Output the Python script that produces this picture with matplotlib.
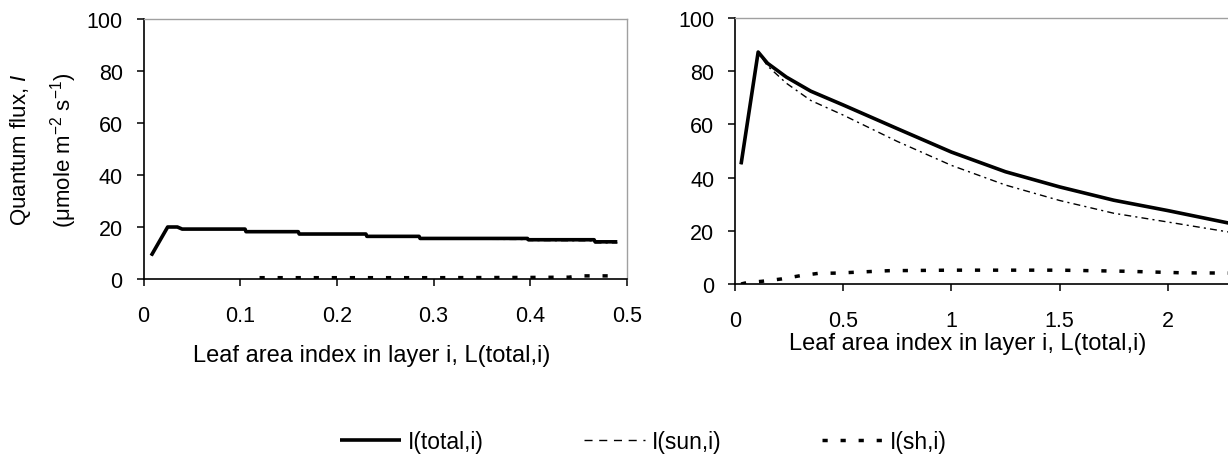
import matplotlib
matplotlib.use("Agg")
import matplotlib.pyplot as plt
from matplotlib.lines import Line2D

plt.rcParams['font.family'] = ['Liberation Sans', 'DejaVu Sans']
plt.rcParams['mathtext.fontset'] = 'custom'
plt.rcParams['mathtext.rm'] = 'Liberation Sans'
plt.rcParams['mathtext.it'] = 'Liberation Sans:italic'

# left panel: shallow layers (L up to 0.5)
lx_total = [0.008, 0.025, 0.035, 0.04, 0.105, 0.106, 0.16, 0.161, 0.23, 0.231,
            0.285, 0.286, 0.397, 0.398, 0.466, 0.467, 0.49]
ly_total = [9, 20, 20, 19.2, 19.2, 18.2, 18.2, 17.3, 17.3, 16.4,
            16.4, 15.6, 15.6, 15.1, 15.1, 14.3, 14.3]
lx_sun = [0.008, 0.025, 0.035, 0.04, 0.105, 0.106, 0.16, 0.161, 0.23, 0.231,
          0.285, 0.286, 0.397, 0.398, 0.466, 0.467, 0.49]
ly_sun = [9, 20, 20, 19.2, 19.2, 18.2, 18.2, 17.2, 17.2, 16.3,
          16.3, 15.4, 15.2, 14.8, 14.7, 13.9, 13.9]
lx_sh = [0.12, 0.2, 0.3, 0.4, 0.44, 0.45, 0.49]
ly_sh = [0.5, 0.5, 0.5, 0.6, 0.7, 1.2, 1.2]

# right panel: whole canopy
rx_total = [0.028, 0.107, 0.15, 0.237, 0.35, 0.5, 0.75, 1.0, 1.25, 1.5, 1.75, 2.0, 2.3]
ry_total = [45, 87.2, 83, 77.8, 72.5, 67.3, 58.4, 49.6, 42.2, 36.5, 31.5, 27.6, 22.6]
rx_sun = [0.028, 0.107, 0.15, 0.237, 0.35, 0.5, 0.75, 1.0, 1.25, 1.5, 1.75, 2.0, 2.3]
ry_sun = [45, 87.2, 82, 75.5, 69, 63.5, 53.6, 44.6, 37.2, 31.4, 26.6, 23.3, 19.3]
rx_sh = [0.028, 0.054, 0.123, 0.215, 0.3, 0.385, 0.47, 0.55, 0.71, 1.0, 1.5, 1.8, 2.07, 2.3]
ry_sh = [0.0, 0.5, 1.0, 1.9, 3.1, 4.0, 4.1, 4.4, 5.0, 5.2, 5.2, 4.8, 4.2, 4.1]

legend_labels = ['I(total,i)', 'I(sun,i)', 'I(sh,i)']
xlabel = 'Leaf area index in layer i, L(total,i)'

W, H = 1228, 456
fig = plt.figure(figsize=(W / 100, H / 100), dpi=100)

ax1 = fig.add_axes([143.5 / W, (H - 280) / H, (627 - 143.5) / W, 260 / H])
ax2 = fig.add_axes([735 / W, (H - 285) / H, 541 / W, 266 / H])

total_kw = dict(color='black', lw=2.6, solid_capstyle='butt')
sun_kw = dict(color='black', lw=1.0, linestyle=(0, (5, 3, 1.5, 3)))
sh_kw = dict(color='black', lw=2.5, linestyle=(0, (1.5, 3.7)))

ax1.plot(lx_sh, ly_sh, **sh_kw)
ax1.plot(lx_sun, ly_sun, **sun_kw)
ax1.plot(lx_total, ly_total, **total_kw)

ax2.plot(rx_sh, ry_sh, **sh_kw)
ax2.plot(rx_sun, ry_sun, **sun_kw)
ax2.plot(rx_total, ry_total, **total_kw)

ax1.set_xlim(0, 0.5)
ax1.set_xticks([0, 0.1, 0.2, 0.3, 0.4, 0.5])
ax1.set_xticklabels(['0', '0.1', '0.2', '0.3', '0.4', '0.5'])
ax2.set_xlim(0, 2.5)
ax2.set_xticks([0, 0.5, 1, 1.5, 2])
ax2.set_xticklabels(['0', '0.5', '1', '1.5', '2'])

for ax in (ax1, ax2):
    ax.set_ylim(0, 100)
    ax.set_yticks([0, 20, 40, 60, 80, 100])
    ax.tick_params(direction='out', length=5, width=1.1, labelsize=15.5, colors='black')
    ax.tick_params(axis='y', pad=10)
    ax.tick_params(axis='x', pad=14)
    for s in ('left', 'bottom'):
        ax.spines[s].set_color('black')
        ax.spines[s].set_linewidth(1.2)
    for s in ('top', 'right'):
        ax.spines[s].set_color('#a0a0a0')
        ax.spines[s].set_linewidth(1.0)
    ax.set_xlabel(xlabel, fontsize=17, va='top')

ax1.xaxis.set_label_coords((372 - 143.5) / 483.5, (280 - 345) / 260)
ax2.xaxis.set_label_coords((968 - 735) / 541, (285 - 333) / 266)

fig.text(21 / W, (H - 150) / H, 'Quantum flux, $\\mathit{I}$', rotation=90,
         ha='center', va='center', fontsize=16)
fig.text(64 / W, (H - 150) / H, '(\u03bcmole m$^{-2}$ s$^{-1}$)', rotation=90,
         ha='center', va='center', fontsize=16)

handles = [Line2D([], [], **total_kw),
           Line2D([], [], color='black', lw=1.0, linestyle=(0, (5.8, 4.8))),
           Line2D([], [], **sh_kw)]
fig.legend(handles, legend_labels, loc='center', bbox_to_anchor=(643.5 / W, 13 / H),
           ncol=3, frameon=False, fontsize=16.5, handlelength=2.67,
           handletextpad=0.3, columnspacing=4.37, borderpad=0, borderaxespad=0)

fig.savefig('out.png', dpi=100)
